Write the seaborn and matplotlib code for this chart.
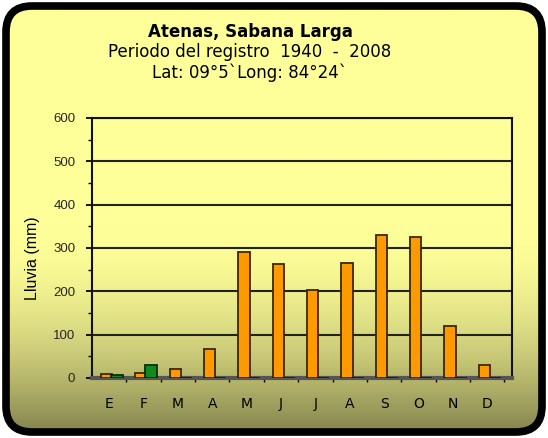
import matplotlib
matplotlib.use('Agg')
import numpy as np
import pandas as pd
import matplotlib.pyplot as plt
import seaborn as sns
from matplotlib.patches import FancyBboxPatch
from matplotlib.ticker import MultipleLocator

# data
months = ['E', 'F', 'M', 'A', 'M', 'J', 'J', 'A', 'S', 'O', 'N', 'D']
lluvia = [10, 11, 20, 66, 290, 263, 202, 265, 331, 325, 121, 30]
lluvia_2 = [7, 30, 0, 0, 0, 0, 0, 0, 0, 0, 0, 0]

sns.set_theme(style='white')
plt.rcParams['font.family'] = ['DejaVu Sans']

W, H = 548, 438
fig = plt.figure(figsize=(W / 100, H / 100), dpi=100)
fig.patch.set_facecolor('white')

# background panel with gradient and rounded black frame
bg = fig.add_axes([0, 0, 1, 1])
bg.set_xlim(0, W)
bg.set_ylim(H, 0)
bg.axis('off')
ys = np.linspace(0, H, 400)
t = np.clip((ys - 225) / (H - 225), 0, 1) ** 1.8
top = np.array([255, 255, 153]) / 255
bot = np.array([125, 125, 74]) / 255
grad = (top[None, :] * (1 - t[:, None]) + bot[None, :] * t[:, None])[:, None, :]
im = bg.imshow(grad, extent=[0, W, H, 0], aspect='auto', zorder=0)
frame = FancyBboxPatch((6, 6), W - 12, H - 12,
                       boxstyle='round,pad=0,rounding_size=26',
                       fc='none', ec='black', lw=5.5, zorder=2)
bg.add_patch(frame)
im.set_clip_path(frame)

bg.text(250, 32, 'Atenas, Sabana Larga', ha='center', va='center',
        fontsize=12, fontweight='bold', color='black')
bg.text(250, 52, 'Periodo del registro  1940  -  2008', ha='center',
        va='center', fontsize=12, color='black')
bg.text(250, 73, 'Lat: 09°5`Long: 84°24`', ha='center', va='center',
        fontsize=12, color='black')
bg.text(33, 258, 'Lluvia (mm)', ha='center', va='center', rotation=90,
        fontsize=11.5, family='Liberation Sans', color='black')

# plot area
x0, x1, y0, y1 = 92, 512, 118, 378
ax = fig.add_axes([x0 / W, 1 - y1 / H, (x1 - x0) / W, (y1 - y0) / H])
ax.set_facecolor('none')

df = pd.DataFrame({'pos': np.arange(12), 'lluvia': lluvia, 'lluvia_2': lluvia_2})
sns.barplot(x=df['pos'] - 0.08, y=df['lluvia'], native_scale=True, width=0.33,
            color='#FF9900', edgecolor='#3d2800', linewidth=1.3,
            saturation=1, ax=ax, zorder=3)
sns.barplot(x=df['pos'] + 0.22, y=df['lluvia_2'], native_scale=True, width=0.36,
            color='#0E8A1E', edgecolor='#0b2a0b', linewidth=1.3,
            saturation=1, ax=ax, zorder=4)

ax.set_xlim(-0.5, 11.72)
ax.set_ylim(0, 600)
ax.yaxis.set_major_locator(MultipleLocator(100))
ax.yaxis.set_minor_locator(MultipleLocator(50))
ax.set_xticks(np.arange(12))
ax.set_xticklabels(months, fontsize=10)
ax.set_xticks(np.arange(12) + 0.5, minor=True)
ax.tick_params(axis='x', which='major', length=0, pad=14, colors='black')
ax.tick_params(axis='x', which='minor', length=3, width=1, direction='out',
               color='black', bottom=True)
ax.tick_params(axis='y', which='major', length=4, width=1.3, direction='out',
               color='black', left=True, labelsize=9.5, pad=8)
ax.tick_params(axis='y', which='minor', length=3, width=1, direction='out',
               color='black', left=True)
for lab in ax.get_yticklabels():
    lab.set_family('Liberation Sans')
ax.set_xlabel('')
ax.set_ylabel('')
ax.grid(axis='y', which='major', color='#222222', lw=1.5, zorder=1)
ax.set_axisbelow(True)
for side in ['top', 'right', 'left']:
    ax.spines[side].set_color('#111111')
    ax.spines[side].set_linewidth(1.5)
ax.spines['bottom'].set_color('#555555')
ax.spines['bottom'].set_linewidth(3)

fig.savefig('out.png', dpi=100)
